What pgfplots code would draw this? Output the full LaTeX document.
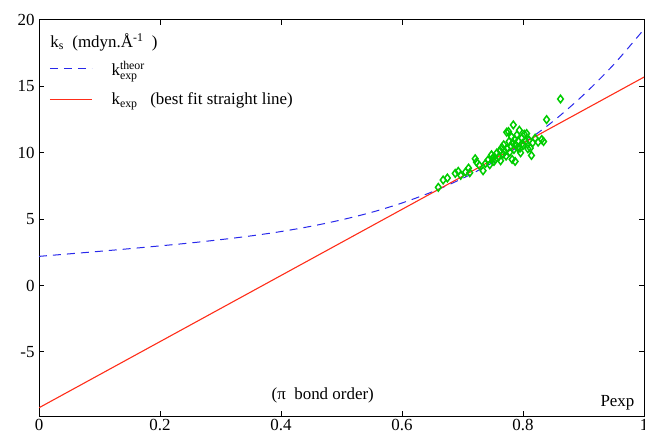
\documentclass[border=0pt]{standalone}
\usepackage{amsmath}
\usepackage{pgfplots}
\pgfplotsset{compat=1.18}
\usepackage{fontspec}
\setmainfont{Liberation Serif}
\newcommand\ff{\fontsize{17}{20}\selectfont}
\definecolor{cblue}{RGB}{40,40,235}
\definecolor{cred}{RGB}{255,45,25}
\definecolor{cgreen}{RGB}{0,205,0}
\pgfplotstableread{
x y
0.660 7.40
0.668 7.95
0.675 8.10
0.688 8.45
0.693 8.60
0.697 8.30
0.705 8.55
0.710 8.85
0.712 8.50
0.721 9.55
0.723 9.30
0.728 9.05
0.734 8.65
0.738 9.20
0.742 9.45
0.745 9.10
0.748 9.85
0.750 9.60
0.752 9.35
0.754 9.50
0.757 10.00
0.760 9.70
0.762 10.15
0.763 9.40
0.765 10.40
0.767 9.90
0.768 10.60
0.770 10.10
0.772 9.75
0.773 11.55
0.774 10.30
0.776 11.60
0.777 10.85
0.778 10.05
0.780 10.50
0.781 11.20
0.782 9.50
0.783 10.75
0.784 12.10
0.785 10.25
0.786 11.00
0.787 9.35
0.788 10.60
0.790 11.35
0.791 10.40
0.792 10.90
0.794 11.70
0.795 10.35
0.796 10.00
0.798 11.10
0.799 10.70
0.800 10.55
0.802 11.40
0.804 10.85
0.806 11.45
0.808 10.30
0.810 10.95
0.812 10.35
0.814 9.80
0.816 10.75
0.820 11.10
0.825 10.80
0.831 11.00
0.834 10.85
0.839 12.50
0.862 14.05
}\pts
\pgfplotstableread{
x y
0.00 2.20
0.05 2.39
0.10 2.58
0.15 2.78
0.20 2.99
0.25 3.21
0.30 3.46
0.35 3.74
0.40 4.07
0.45 4.47
0.50 4.95
0.55 5.52
0.60 6.22
0.65 7.06
0.70 8.07
0.75 9.27
0.80 10.70
0.85 12.38
0.90 14.36
0.95 16.65
1.00 19.30
}\theor
\begin{document}
\begin{tikzpicture}
\begin{axis}[
  scale only axis,
  width=605bp, height=396bp,
  xmin=0, xmax=1, ymin=-9.82, ymax=20,
  xtick={0,0.2,0.4,0.6,0.8,1},
  xticklabels={0,0.2,0.4,0.6,0.8,1},
  ytick={-5,0,5,10,15,20},
  yticklabels={-5,0,5,10,15,20},
  tick align=inside,
  major tick length=5bp,
  tick style={black, line width=1bp},
  axis line style={line width=1bp},
  tick label style={font=\ff},
  yticklabel style={xshift=-1bp},
  legend style={at={(rel axis cs:0.012,0.905)}, anchor=north west, draw=none, fill=none,
    font=\ff, row sep=14bp, column sep=0bp,
    nodes={inner sep=1bp}},
  legend cell align=left,
  legend image code/.code={\draw[#1] (0bp,0bp) -- (42bp,0bp);},
  clip=true,
]
\addplot[cblue, line width=1bp, dash pattern=on 8bp off 6bp, smooth] table[x=x,y=y] {\theor};
\addlegendentry{\hspace{18bp}k$^{\text{theor}}_{\text{exp}}$}
\addplot[cred, line width=1.1bp] coordinates {(0,-9.2) (1,15.7)};
\addlegendentry{\hspace{18bp}k$_{\text{exp}}$\ \ \ (best fit straight line)}
\addplot[only marks, cgreen, mark=diamond, mark size=3.8bp, mark options={line width=1.5bp, fill=none}] table[x=x,y=y] {\pts};
\node[anchor=west, font=\ff] at (rel axis cs:0.013,0.944) {k\textsubscript{s}\ \ (mdyn.Å\textsuperscript{-1}\ \ )};
\node[font=\ff] at (axis cs:0.469,-8.24) {(π\ \ bond order)};
\node[anchor=east, font=\ff] at (axis cs:0.99,-8.83) {Pexp};
\end{axis}
\pgfresetboundingbox
\path[use as bounding box] ([xshift=-39bp,yshift=-21bp]current axis.south west) rectangle ([xshift=1bp,yshift=20bp]current axis.north east);
\end{tikzpicture}
\end{document}
